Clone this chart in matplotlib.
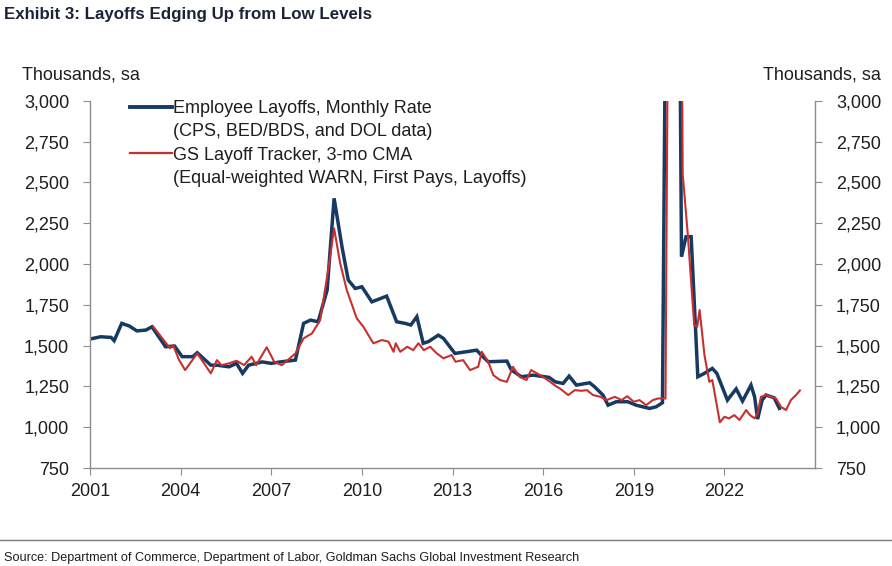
import matplotlib
matplotlib.use("Agg")

import matplotlib.pyplot as plt
from matplotlib.ticker import FuncFormatter
from matplotlib.lines import Line2D

# Employee layoffs, monthly rate (thousands, sa)
blue_x = [2001.0, 2001.35, 2001.7, 2001.8, 2002.05, 2002.3, 2002.55, 2002.85, 2003.05,
          2003.5, 2003.8, 2004.05, 2004.4, 2004.55, 2005.0, 2005.2, 2005.6, 2005.85,
          2006.05, 2006.25, 2006.7, 2007.0, 2007.3, 2007.8, 2008.07, 2008.3, 2008.55,
          2008.85, 2009.08, 2009.35, 2009.55, 2009.78, 2010.0, 2010.33, 2010.82, 2011.15,
          2011.43, 2011.62, 2011.82, 2012.03, 2012.2, 2012.53, 2012.7, 2013.08, 2013.45,
          2013.8, 2013.95, 2014.18, 2014.8, 2014.95, 2015.28, 2015.67, 2015.9, 2016.2,
          2016.4, 2016.66, 2016.86, 2017.1, 2017.54, 2017.7, 2017.98, 2018.15, 2018.42,
          2018.8, 2019.08, 2019.52, 2019.74, 2019.95, 2020.3, 2020.58, 2020.73, 2020.9,
          2021.12, 2021.34, 2021.6, 2021.75, 2022.1, 2022.39, 2022.6, 2022.88, 2023.0,
          2023.1, 2023.25, 2023.38, 2023.65, 2023.82]
blue_y = [1540, 1554, 1550, 1530, 1636, 1620, 1590, 1595, 1615,
          1493, 1497, 1432, 1432, 1456, 1380, 1380, 1370, 1391,
          1330, 1380, 1400, 1391, 1400, 1411, 1636, 1656, 1646,
          1840, 2402, 2096, 1901, 1850, 1860, 1768, 1803, 1646,
          1636, 1626, 1677, 1514, 1524, 1564, 1544, 1452, 1462,
          1472, 1442, 1401, 1405, 1350, 1309, 1319, 1313, 1305,
          1278, 1268, 1313, 1258, 1272, 1248, 1197, 1135, 1156,
          1156, 1135, 1115, 1125, 1150, 9500, 2044, 2167, 2167,
          1309, 1330, 1360, 1330, 1166, 1235, 1160, 1258, 1186,
          1050, 1166, 1197, 1180, 1115]

# GS layoff tracker, 3-mo CMA
red_x = [2003.1, 2003.65, 2003.75, 2003.95, 2004.15, 2004.55, 2005.0, 2005.2, 2005.35,
         2005.6, 2005.85, 2006.1, 2006.35, 2006.5, 2006.85, 2007.1, 2007.35, 2007.8,
         2008.07, 2008.35, 2008.62, 2008.9, 2009.08, 2009.28, 2009.5, 2009.83, 2010.05,
         2010.38, 2010.66, 2010.88, 2011.05, 2011.12, 2011.27, 2011.5, 2011.7, 2011.87,
         2012.05, 2012.26, 2012.48, 2012.7, 2012.97, 2013.1, 2013.35, 2013.58, 2013.85,
         2013.97, 2014.18, 2014.35, 2014.57, 2014.8, 2015.0, 2015.22, 2015.45, 2015.6,
         2015.9, 2016.15, 2016.45, 2016.55, 2016.83, 2017.05, 2017.27, 2017.45, 2017.65,
         2017.9, 2018.1, 2018.37, 2018.6, 2018.78, 2019.0, 2019.19, 2019.41, 2019.63,
         2019.8, 2020.05, 2020.3, 2020.5, 2020.62, 2020.79, 2021.0, 2021.1, 2021.18,
         2021.34, 2021.5, 2021.6, 2021.85, 2022.0, 2022.15, 2022.33, 2022.5, 2022.72,
         2022.85, 2023.0, 2023.1, 2023.21, 2023.38, 2023.71, 2023.87, 2024.04, 2024.2,
         2024.37, 2024.5]
red_y = [1615, 1483, 1503, 1411, 1350, 1452, 1330, 1411, 1380,
         1391, 1407, 1380, 1432, 1380, 1490, 1400, 1380, 1452,
         1544, 1575, 1656, 1983, 2218, 2005, 1840, 1667, 1615,
         1514, 1534, 1524, 1462, 1514, 1462, 1493, 1472, 1514,
         1472, 1493, 1452, 1422, 1442, 1401, 1411, 1350, 1370,
         1462, 1401, 1319, 1289, 1278, 1370, 1309, 1289, 1350,
         1319, 1289, 1248, 1238, 1197, 1227, 1223, 1227, 1197,
         1186, 1166, 1186, 1166, 1190, 1156, 1166, 1135, 1166,
         1176, 1176, 8500, 6000, 2550, 2177, 1626, 1615, 1718,
         1442, 1278, 1289, 1030, 1064, 1054, 1074, 1044, 1105,
         1074, 1054, 1084, 1186, 1197, 1176, 1125, 1105, 1166,
         1197, 1225]

x_ticks = [2001, 2004, 2007, 2010, 2013, 2016, 2019, 2022]
y_ticks = [750, 1000, 1250, 1500, 1750, 2000, 2250, 2500, 2750, 3000]

BLUE = "#173a63"
RED = "#c8302f"
GREY = "#8c8c8c"
TXT = "#1e1e1e"

plt.rcParams["font.family"] = ["Liberation Sans", "DejaVu Sans"]

fig = plt.figure(figsize=(8.92, 5.66), dpi=100)
ax = fig.add_axes([0.1009, 0.1731, 0.8128, 0.649])

ax.plot(blue_x, blue_y, color=BLUE, linewidth=2.5, solid_joinstyle="miter", zorder=2)
ax.plot(red_x, red_y, color=RED, linewidth=1.5, zorder=3)

ax.set_xlim(2001, 2025)
ax.set_ylim(750, 3000)
ax.set_xticks(x_ticks)
ax.set_yticks(y_ticks)
ax.yaxis.set_major_formatter(FuncFormatter(lambda v, p: f"{int(v):,}"))

ax.spines["top"].set_visible(False)
for s in ["left", "right", "bottom"]:
    ax.spines[s].set_color(GREY)
    ax.spines[s].set_linewidth(1.0)

ax.tick_params(axis="y", which="both", left=True, right=True, labelleft=True, labelright=True,
               direction="out", length=5, color=GREY, labelsize=13, labelcolor=TXT, pad=10)
ax.tick_params(axis="x", direction="out", length=5, color=GREY, labelsize=13,
               labelcolor=TXT, pad=6)

# legend: handle sits on the first line of each two-line label
blank = Line2D([0], [0], color="none")
handles = [Line2D([0], [0], color=BLUE, linewidth=2.8), blank,
           Line2D([0], [0], color=RED, linewidth=1.6), blank]
labels = ["Employee Layoffs, Monthly Rate", "(CPS, BED/BDS, and DOL data)",
          "GS Layoff Tracker, 3-mo CMA", "(Equal-weighted WARN, First Pays, Layoffs)"]
leg = ax.legend(handles, labels, loc="upper left", bbox_to_anchor=(0.055, 1.002),
                frameon=False, fontsize=13, handlelength=2.33, handletextpad=0.05,
                labelspacing=0.35, borderaxespad=0.0, borderpad=0.0)
for t in leg.get_texts():
    t.set_color(TXT)

fig.text(0.025, 0.867, "Thousands, sa", fontsize=13, color=TXT, ha="left", va="center")
fig.text(0.988, 0.867, "Thousands, sa", fontsize=13, color=TXT, ha="right", va="center")

fig.text(0.005, 0.975, "Exhibit 3: Layoffs Edging Up from Low Levels",
         fontsize=12.2, fontweight="bold", color="#1c2336", ha="left", va="center")

fig.add_artist(Line2D([0, 1], [0.046, 0.046], transform=fig.transFigure,
                      color="#7a7a7a", linewidth=1.0))
fig.text(0.005, 0.015, "Source: Department of Commerce, Department of Labor, Goldman Sachs Global Investment Research",
         fontsize=9.1, color=TXT, ha="left", va="center")

fig.savefig("out.png", dpi=100)
